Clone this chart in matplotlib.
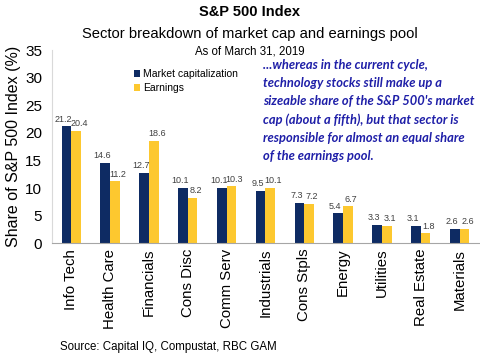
import numpy as np
import matplotlib
matplotlib.use("Agg")
import matplotlib.pyplot as plt

plt.rcParams['font.family'] = ['Liberation Sans', 'DejaVu Sans']

# data
sectors = ['Info Tech', 'Health Care', 'Financials', 'Cons Disc', 'Comm Serv',
           'Industrials', 'Cons Stpls', 'Energy', 'Utilities', 'Real Estate',
           'Materials']
mkt_cap = [21.2, 14.6, 12.7, 10.1, 10.1, 9.5, 7.3, 5.4, 3.3, 3.1, 2.6]
earnings = [20.4, 11.2, 18.6, 8.2, 10.3, 10.1, 7.2, 6.7, 3.1, 1.8, 2.6]

navy = '#0E2B63'
gold = '#FDC82F'

fig = plt.figure(figsize=(4.8, 3.54), dpi=100)
ax = fig.add_axes([0.108, 0.313, 0.89, 0.545])

x = np.arange(len(sectors))
w = 0.25
b1 = ax.bar(x - w / 2, mkt_cap, w, color=navy, label='Market capitalization')
b2 = ax.bar(x + w / 2, earnings, w, color=gold, label='Earnings')

# value labels, nudged apart a little so neighbours don't collide
for rect, v in zip(b1, mkt_cap):
    ax.text(rect.get_x() + rect.get_width() / 2 - 0.08, v + 0.5, f'{v:.1f}',
            ha='center', va='bottom', fontsize=6.5, color='#404040')
for rect, v in zip(b2, earnings):
    ax.text(rect.get_x() + rect.get_width() / 2 + 0.08, v + 0.5, f'{v:.1f}',
            ha='center', va='bottom', fontsize=6.5, color='#404040')

ax.set_xlim(-0.5, len(sectors) - 0.5)
ax.set_ylim(0, 35)
ax.set_yticks(range(0, 36, 5))
ax.set_xticks(x)
ax.set_xticklabels(sectors, rotation=90, fontsize=10.8)
ax.tick_params(axis='y', labelsize=11, length=0, pad=7)
ax.tick_params(axis='x', length=0, pad=4)
for s in ['top', 'right']:
    ax.spines[s].set_visible(False)
ax.spines['left'].set_color('#D9D9D9')
ax.spines['bottom'].set_color('#A6A6A6')
ax.set_ylabel('Share of S&P 500 Index (%)', fontsize=11.5, labelpad=3)

ax.legend(loc='upper left', bbox_to_anchor=(0.17, 0.95), frameon=False,
          fontsize=7.5, handlelength=0.6, handleheight=0.6,
          handletextpad=0.3, labelspacing=0.35)

fig.text(0.52, 0.955, 'S&P 500 Index', ha='center', fontsize=10.5, weight='bold')
fig.text(0.52, 0.893, 'Sector breakdown of market cap and earnings pool',
         ha='center', fontsize=10.6)
fig.text(0.52, 0.846, 'As of March 31, 2019', ha='center', fontsize=8.3)

note = ('...whereas in the current cycle,\n'
        'technology stocks still make up a\n'
        "sizeable share of the S&P 500's market\n"
        'cap (about a fifth), but that sector is\n'
        'responsible for almost an equal share\n'
        'of the earnings pool.')
fig.text(0.548, 0.832, note, ha='left', va='top', fontsize=9.3,
         color='#1F1FA8', style='italic', weight='bold', family='Lato',
         linespacing=1.6)

fig.text(0.125, 0.012, 'Source: Capital IQ, Compustat, RBC GAM', fontsize=8.3)

plt.savefig('out.png', dpi=100)
